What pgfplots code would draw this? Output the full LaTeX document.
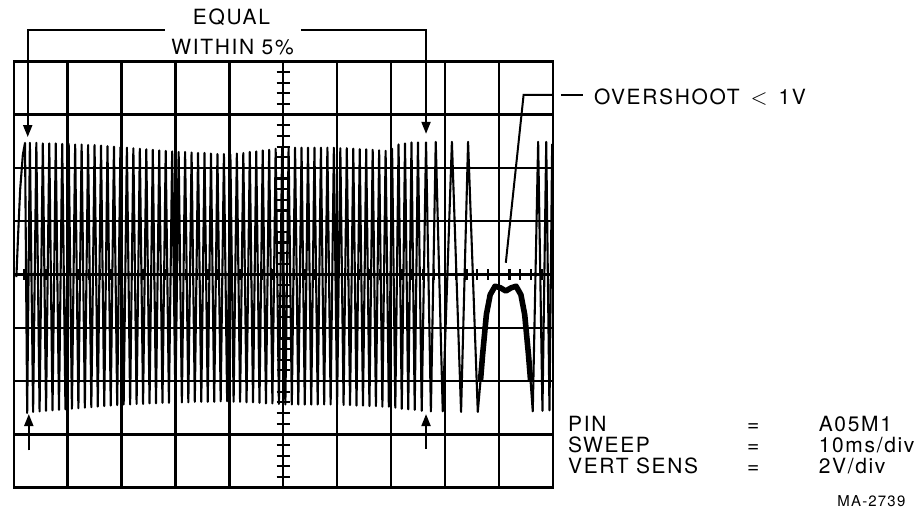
\documentclass[border=0pt]{standalone}
\usepackage{pgfplots}
\pgfplotsset{compat=1.18}
\usepackage{fontspec}
\setmainfont{TeX Gyre Heros}[LetterSpace=8]
\usetikzlibrary{arrows.meta}

\tikzset{
  lbl/.style={font=\fontsize{10.5}{12}\selectfont, inner sep=0pt, text height=7.5pt, text depth=0pt},
  arr/.style={line width=1pt, -{Triangle[length=6pt,width=4.5pt]}},
}

\begin{document}
\begin{tikzpicture}
\begin{axis}[
  x=27pt, y=26.6875pt,
  xmin=0, xmax=10, ymin=-4, ymax=4,
  xtick={1,...,9}, ytick={-3,...,3},
  xticklabels={}, yticklabels={},
  major tick length=0pt,
  grid=major,
  major grid style={black, line width=1.2pt},
  axis line style={black, line width=1.2pt},
  clip=false,
]
% page size
\path (axis cs:-0.222,-4.553) rectangle (axis cs:16.796,5.152);

% graticule ticks on the centre lines
\pgfplotsinvokeforeach{-3.8,-3.6,...,3.8}{
  \draw[line width=1.1pt] (axis cs:4.88,#1) -- (axis cs:5.12,#1);
}
\pgfplotsinvokeforeach{0.2,0.4,...,9.8}{
  \draw[line width=1.1pt] (axis cs:#1,-0.1) -- (axis cs:#1,0.1);
}

% trace
\addplot[black, line width=1.05pt, line join=round] coordinates {
(0.05,-0.05) (0.08,0.7) (0.12,1.6) (0.17,2.25) (0.21,2.47) (0.25,-2.60)
(0.30,2.47) (0.36,-2.58) (0.42,2.47) (0.48,-2.57) (0.54,2.46) (0.60,-2.56)
(0.66,2.46) (0.72,-2.55) (0.78,2.46) (0.84,-2.54) (0.90,2.45) (0.96,-2.53)
(1.02,2.45) (1.08,-2.52) (1.14,2.44) (1.20,-2.51) (1.26,2.44) (1.32,-2.50)
(1.38,2.43) (1.44,-2.49) (1.50,2.43) (1.56,-2.48) (1.62,2.42) (1.68,-2.47)
(1.74,2.41) (1.80,-2.46) (1.86,2.40) (1.92,-2.45) (1.98,2.39) (2.04,-2.44)
(2.10,2.38) (2.16,-2.44) (2.22,2.37) (2.28,-2.43) (2.34,2.36) (2.40,-2.43)
(2.46,2.35) (2.52,-2.42) (2.58,2.34) (2.64,-2.42) (2.70,2.33) (2.76,-2.41)
(2.82,2.32) (2.88,-2.41) (2.94,2.31) (3.00,-2.40) (3.06,2.30) (3.12,-2.40)
(3.18,2.30) (3.24,-2.40) (3.30,2.29) (3.36,-2.39) (3.42,2.28) (3.48,-2.39)
(3.54,2.28) (3.60,-2.39) (3.66,2.27) (3.72,-2.39) (3.78,2.26) (3.84,-2.38)
(3.90,2.26) (3.96,-2.38) (4.02,2.25) (4.08,-2.39) (4.14,2.27) (4.20,-2.39)
(4.26,2.28) (4.32,-2.40) (4.38,2.30) (4.44,-2.40) (4.50,2.31) (4.56,-2.41)
(4.62,2.33) (4.68,-2.42) (4.74,2.34) (4.80,-2.42) (4.86,2.36) (4.92,-2.43)
(4.98,2.38) (5.04,-2.44) (5.10,2.38) (5.16,-2.44) (5.22,2.38) (5.28,-2.44)
(5.34,2.38) (5.40,-2.44) (5.46,2.38) (5.52,-2.44) (5.58,2.38) (5.64,-2.44)
(5.70,2.38) (5.76,-2.44) (5.82,2.38) (5.88,-2.44) (5.94,2.38) (6.00,-2.44)
(6.06,2.37) (6.12,-2.45) (6.18,2.37) (6.24,-2.45) (6.30,2.36) (6.36,-2.46)
(6.42,2.35) (6.48,-2.46) (6.54,2.35) (6.60,-2.47) (6.66,2.34) (6.72,-2.47)
(6.78,2.33) (6.84,-2.48) (6.90,2.32) (6.96,-2.48)
(7.02,2.36) (7.08,-2.50) (7.14,2.44) (7.20,-2.52) (7.26,2.46) (7.32,-2.53)
(7.38,2.48) (7.44,-2.54) (7.50,2.48) (7.57,-2.56) (7.65,2.48) (7.74,-2.57)
(7.83,2.49) (7.96,-2.57) (8.13,2.49) (8.30,-2.58) (8.43,2.49) (8.61,-2.58)
(8.66,-2.0)
};
\addplot[black, line width=2.8pt, line join=round] coordinates {
(8.66,-2.0) (8.70,-1.5) (8.77,-0.75) (8.84,-0.38) (8.93,-0.22) (9.03,-0.25)
(9.13,-0.31) (9.23,-0.25) (9.32,-0.22) (9.41,-0.38) (9.48,-0.75) (9.55,-1.5)
(9.59,-2.0)
};
\addplot[black, line width=1.05pt, line join=round] coordinates {
(9.59,-2.0) (9.63,-2.57) (9.73,2.49) (9.81,-2.56) (9.88,2.49) (9.94,-2.55)
(9.99,2.45)
};

% "equal within 5%" bracket
\draw[arr] (axis cs:2.80,4.59) -- (axis cs:0.26,4.59) -- (axis cs:0.26,2.58);
\draw[arr] (axis cs:5.33,4.59) -- (axis cs:7.65,4.59) -- (axis cs:7.65,2.64);
\node[lbl] at (axis cs:4.04,4.83) {EQUAL};
\node[lbl] at (axis cs:4.06,4.27) {WITHIN 5\%};
\draw[arr] (axis cs:0.28,-3.30) -- (axis cs:0.28,-2.62);
\draw[arr] (axis cs:7.65,-3.28) -- (axis cs:7.65,-2.62);

% overshoot leader
\draw[line width=1pt] (axis cs:9.13,0.22) -- (axis cs:9.46,3.37) -- (axis cs:10.0,3.37);
\draw[line width=1pt] (axis cs:10.15,3.37) -- (axis cs:10.57,3.37);
\node[lbl, anchor=west] at (axis cs:10.76,3.33) {OVERSHOOT\, $<$\, 1V};

% settings
\node[lbl, anchor=west] at (axis cs:10.28,-2.81) {PIN};
\node[lbl, anchor=west] at (axis cs:10.28,-3.20) {SWEEP};
\node[lbl, anchor=west] at (axis cs:10.28,-3.60) {VERT SENS};
\node[lbl] at (axis cs:13.72,-2.81) {=};
\node[lbl] at (axis cs:13.72,-3.20) {=};
\node[lbl] at (axis cs:13.72,-3.60) {=};
\node[lbl, anchor=west] at (axis cs:14.93,-2.81) {A05M1};
\node[lbl, anchor=west] at (axis cs:14.93,-3.20) {10ms/div};
\node[lbl, anchor=west] at (axis cs:14.93,-3.60) {2V/div};
\node[inner sep=0pt, anchor=east, font=\fontsize{7.5}{9}\selectfont] at (axis cs:16.55,-4.25) {MA-2739};
\end{axis}
\end{tikzpicture}
\end{document}
